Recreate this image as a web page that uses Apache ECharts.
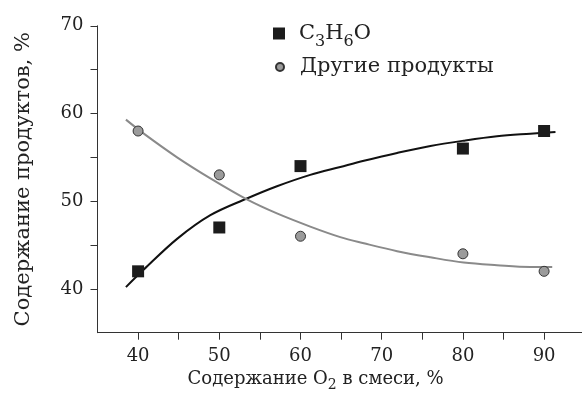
<!DOCTYPE html>
<html>
<head>
<meta charset="utf-8">
<script src="https://cdn.jsdelivr.net/npm/echarts@6/dist/echarts.min.js"></script>
<style>
html,body{margin:0;padding:0;background:#fff;}
#chart{width:582px;height:402px;}
</style>
</head>
<body>
<div id="chart"></div>
<script>
// Measured points
const oxygenX = [40, 50, 60, 80, 90];
const acetoneValues = [42, 47, 54, 56, 58];
const otherValues = [58, 53, 46, 44, 42];

// Fitted curves
const acetoneFitX = [38.5, 40.7, 44.8, 48.9, 53.4, 57.1, 61.2, 64.9, 67.8, 71.9, 76.0, 80.1, 84.2, 88.3, 91.4];
const acetoneFitY = [40.2, 42.2, 45.7, 48.4, 50.3, 51.7, 53.0, 53.9, 54.6, 55.5, 56.3, 56.9, 57.4, 57.7, 57.9];
const otherFitX = [38.5, 40.7, 44.8, 48.9, 53.4, 57.1, 61.2, 64.9, 67.8, 71.9, 76.0, 80.1, 84.2, 88.3, 91.0];
const otherFitY = [59.3, 57.7, 55.0, 52.6, 50.2, 48.6, 47.1, 45.9, 45.2, 44.3, 43.6, 43.0, 42.7, 42.5, 42.5];

// Ticks
const xTickValues = [40, 45, 50, 55, 60, 65, 70, 75, 80, 85, 90];
const xTickLabels = [40, 50, 60, 70, 80, 90];
const yTickValues = [40, 45, 50, 55, 60, 65, 70];
const yTickLabels = [40, 50, 60, 70];

const seriesNames = ['C3H6O', 'Другие продукты'];

const zip = (a, b) => a.map((v, i) => [v, b[i]]);
const FONT = 'DejaVu Serif';
const sub = { fontFamily: FONT, fontSize: 16, color: '#222', verticalAlign: 'bottom', padding: [0, 0, -6, 0] };

const chart = echarts.init(document.getElementById('chart'), null, { renderer: 'canvas' });
chart.setOption({
  animation: false,
  backgroundColor: '#fff',
  textStyle: { fontFamily: FONT },
  grid: { left: 97.5, top: 25.8, bottom: 69.3, right: -2.7, outerBoundsMode: 'none', containLabel: false },
  legend: [
    {
      data: [{ name: seriesNames[0], icon: 'rect' }],
      left: 273, top: 23, padding: 0, orient: 'vertical',
      itemWidth: 12, itemHeight: 12,
      textStyle: { fontFamily: FONT, fontSize: 21, color: '#222', padding: [0, 0, 0, 9],
        rich: { n: { fontFamily: FONT, fontSize: 21, color: '#222' }, s: sub } },
      formatter: () => '{n|C}{s|3}{n|H}{s|6}{n|O}'
    },
    {
      data: [{ name: seriesNames[1], icon: 'circle' }],
      left: 275, top: 56.5, padding: 0, orient: 'vertical',
      itemWidth: 8, itemHeight: 8,
      textStyle: { fontFamily: FONT, fontSize: 21, color: '#222', padding: [0, 0, 0, 11] }
    }
  ],
  xAxis: {
    type: 'value', min: 35, max: 95,
    name: 'Содержание O{s|2} в смеси, %',
    nameLocation: 'middle', nameGap: 33,
    nameTextStyle: { fontFamily: FONT, fontSize: 18, color: '#222', padding: [0, 51, 0, 0],
      rich: { s: { fontFamily: FONT, fontSize: 14, color: '#222', verticalAlign: 'bottom', padding: [0, 0, -4, 0] } } },
    axisLine: { lineStyle: { color: '#333', width: 1 } },
    axisTick: { show: true, length: 7, inside: false, lineStyle: { color: '#333' }, customValues: xTickValues },
    axisLabel: { customValues: xTickLabels, fontFamily: FONT, fontSize: 18, color: '#222', margin: 15 },
    splitLine: { show: false }
  },
  yAxis: {
    type: 'value', min: 35, max: 70,
    name: 'Содержание продуктов, %',
    nameLocation: 'middle', nameGap: 63, nameRotate: 90,
    nameTextStyle: { fontFamily: FONT, fontSize: 21, color: '#222' },
    axisLine: { show: true, lineStyle: { color: '#333', width: 1 } },
    axisTick: { show: true, length: 7, inside: false, lineStyle: { color: '#333' }, customValues: yTickValues },
    axisLabel: { customValues: yTickLabels, fontFamily: FONT, fontSize: 18, color: '#222', margin: 14 },
    splitLine: { show: false }
  },
  series: [
    {
      name: 'fitA', type: 'line', data: zip(acetoneFitX, acetoneFitY), smooth: 0.35,
      showSymbol: false, symbol: 'none', lineStyle: { color: '#111', width: 2 }, z: 1, silent: true
    },
    {
      name: 'fitB', type: 'line', data: zip(otherFitX, otherFitY), smooth: 0.35,
      showSymbol: false, symbol: 'none', lineStyle: { color: '#8a8a8a', width: 2 }, z: 1, silent: true
    },
    {
      name: seriesNames[0], type: 'scatter', data: zip(oxygenX, acetoneValues),
      symbol: 'rect', symbolSize: 12, itemStyle: { color: '#1c1c1c', opacity: 1 }, z: 3
    },
    {
      name: seriesNames[1], type: 'scatter', data: zip(oxygenX, otherValues),
      symbol: 'circle', symbolSize: 10, itemStyle: { color: '#9b9b9b', borderColor: '#333', borderWidth: 1, opacity: 1 }, z: 3
    }
  ]
});
</script>
</body>
</html>
